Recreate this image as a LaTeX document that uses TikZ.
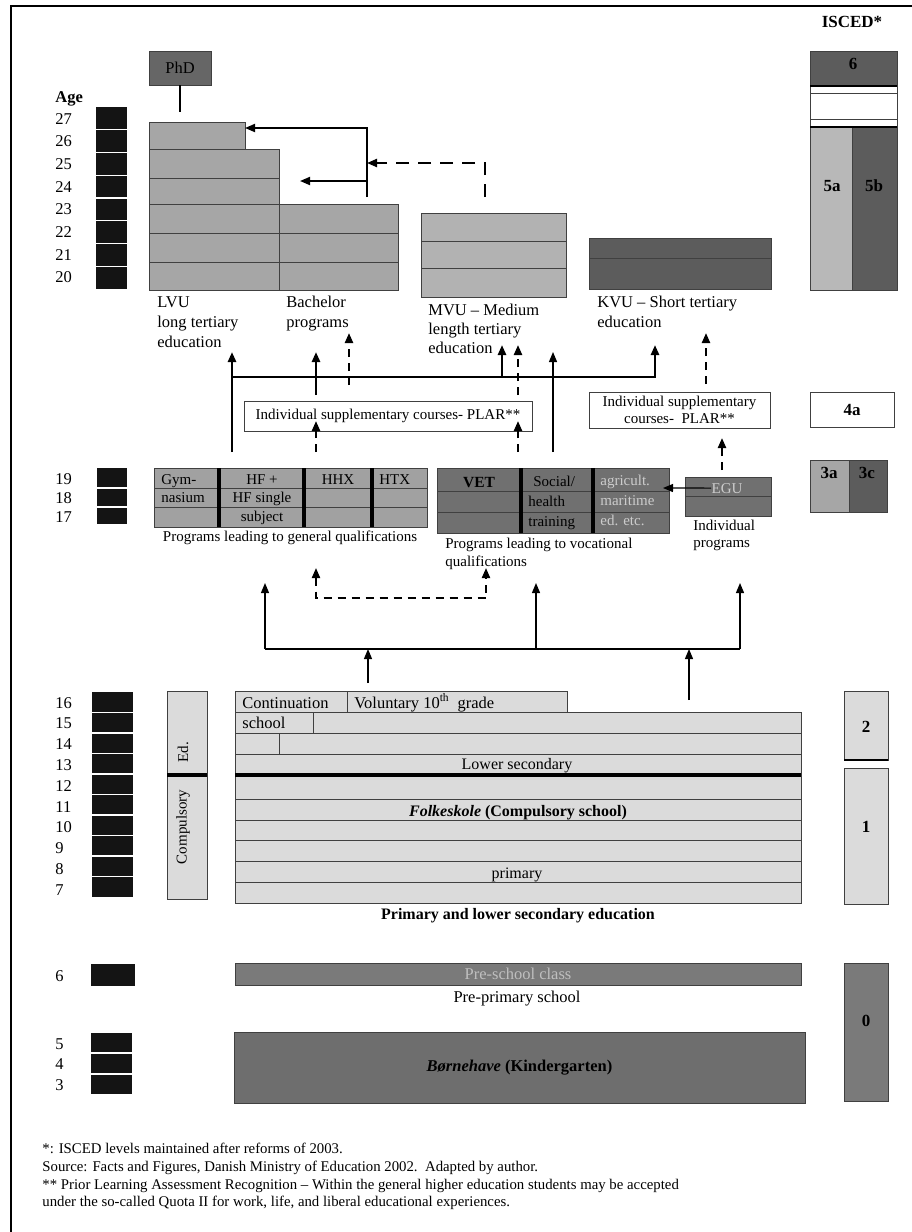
\documentclass[tikz,border=0pt]{standalone}
\usepackage{fontspec}
\setmainfont{Liberation Serif}
\usepackage{tikz}
\usetikzlibrary{arrows.meta,positioning,calc}
\tikzset{every picture/.style={line width=0.75pt}}

\definecolor{barfill}{gray}{0.08}
\definecolor{midfill}{gray}{0.65}
\definecolor{mvufill}{gray}{0.70}
\definecolor{kvufill}{gray}{0.36}
\definecolor{phdfill}{gray}{0.40}
\definecolor{iscdark}{gray}{0.36}
\definecolor{isclight}{gray}{0.72}
\definecolor{genfill}{gray}{0.63}
\definecolor{vocfill}{gray}{0.44}
\definecolor{lightfill}{gray}{0.86}
\definecolor{prefill}{gray}{0.48}
\definecolor{kinfill}{gray}{0.43}

\begin{document}
\begin{tikzpicture}[x=1pt, y=-1pt, >={Triangle[length=10pt,width=8pt]},
    box/.style={draw=black!75, line width=0.8pt, anchor=north west, inner sep=0pt, outer sep=0pt},
    txt/.style={inner sep=0pt, font=\fontsize{15}{18.5}\selectfont},
    lbl/.style={inner sep=0pt, font=\fontsize{16.5}{20}\selectfont, align=left, anchor=north west},
    num/.style={inner sep=0pt, font=\fontsize{16.5}{20}\selectfont, anchor=base west},
    lvl/.style={inner sep=0pt, font=\fontsize{17}{20}\selectfont\bfseries, anchor=base},
    agebar/.style={fill=barfill, anchor=north west, inner sep=0pt, outer sep=0pt},
    agesep/.style={white, line width=1.2pt},
    rowline/.style={draw=black!75, line width=0.8pt},
    wall/.style={line width=4pt},
    arw/.style={line width=1.8pt},
    thk/.style={line width=2.6pt},
    dsh/.style={line width=2.2pt, dash pattern=on 8pt off 6pt},
    fine/.style={line width=1.2pt}]
    \useasboundingbox (0,0) rectangle (912,1232);

    % frame
    \draw[line width=2.2pt] (11,1232) -- (11,6) -- (912,6);
    \node[lvl] (iscedhd) at (852,27) {ISCED*};

    % age scale 27-20
    \node[inner sep=0pt, font=\fontsize{16.5}{20}\selectfont\bfseries, anchor=base west] (agehd) at (55,102) {Age};
    \node[agebar, minimum width=31, minimum height=182] (barhi) at (96,107) {};
    \foreach \i in {1,...,7} \draw[agesep] (96,{107+22.75*\i}) -- ++(31,0);
    \foreach \a [count=\i from 0] in {27,26,...,20} \node[num] (age\a) at (55,{124+22.7*\i}) {\a};

    % PhD
    \node[box, fill=phdfill, minimum width=62, minimum height=34, font=\fontsize{16.5}{20}\selectfont] (phd) at (149,51) {PhD};
    \coordinate (phdfoot) at (180,112);
    \draw[arw] (phd.south) -- (phdfoot);

    % LVU and bachelor
    \node[box, fill=midfill, minimum width=96, minimum height=27] (lvutop) at (149,122) {};
    \node[box, fill=midfill, minimum width=130, minimum height=141] (lvu) at (149,149) {};
    \node[box, fill=midfill, minimum width=119, minimum height=86] (bach) at (279,204) {};
    \foreach \y in {178,204,233,262} \draw[rowline] (149,\y) -- (279,\y);
    \foreach \y in {233,262} \draw[rowline] (279,\y) -- (398,\y);

    % MVU and KVU
    \node[box, fill=mvufill, minimum width=145, minimum height=84] (mvu) at (421,213) {};
    \foreach \y in {241,268} \draw[rowline] (421,\y) -- (566,\y);
    \node[box, fill=kvufill, minimum width=182, minimum height=51] (kvu) at (589,238) {};
    \draw[rowline] (589,258) -- (771,258);

    \node[lbl] (lvulbl) at (157,296) {LVU\\long tertiary\\education};
    \node[lbl] (bachlbl) at (286,296) {Bachelor\\programs};
    \node[lbl, font=\fontsize{16.5}{19}\selectfont] (mvulbl) at (428,304) {MVU -- Medium\\length tertiary\\education};
    \node[lbl] (kvulbl) at (597,296) {KVU -- Short tertiary\\education};

    % transfer arrows
    \coordinate (bfoot) at (367,197);
    \coordinate (bturn) at (367,128);
    \coordinate (bmid) at (367,181);
    \coordinate (mfoot) at (485,197);
    \coordinate (mturn) at (485,163);
    \draw[arw,->] (bfoot) -- (bturn) -- (bturn -| lvutop.east);
    \draw[arw,->] (bmid) -- ++(-67,0);
    \draw[dsh, dash pattern=on 13pt off 9pt, ->] (mfoot) -- (mturn) -- (mturn -| bturn);

    % ISCED 5-6
    \node[box, fill=iscdark, minimum width=87, minimum height=35] (isc6) at (810,51) {};
    \node[box, fill=white, minimum width=87, minimum height=41] (iscgap) at (810,86) {};
    \foreach \y in {93,119} \draw[rowline] (810,\y) -- (897,\y);
    \node[box, fill=isclight, minimum width=42, minimum height=163] (isc5a) at (810,127) {};
    \node[box, fill=iscdark, minimum width=45, minimum height=163] (isc5b) at (852,127) {};
    \draw[line width=2pt] (isc6.south west) -- (isc6.south east);
    \draw[line width=2pt] (isc5a.north west) -- (isc5b.north east);
    \node[lvl] (lvl6) at (853,69) {6};
    \node[lvl] (lvl5a) at (832,191) {5a};
    \node[lvl] (lvl5b) at (874,191) {5b};

    % supplementary courses
    \node[box, fill=white, minimum width=288, minimum height=30, font=\fontsize{15}{18}\selectfont] (supp1) at (244,401) {Individual supplementary courses- PLAR**};
    \node[box, fill=white, minimum width=181, minimum height=36, align=center, font=\fontsize{15}{17}\selectfont] (supp2) at (589,392) {Individual supplementary\\courses-~ PLAR**};
    \node[box, minimum width=84, minimum height=35, font=\fontsize{17}{20}\selectfont\bfseries] (isc4a) at (810,392) {4a};

    % access to tertiary
    \coordinate (gymout) at (232,452);
    \coordinate (lvuin) at (232,352);
    \coordinate (hubw) at (232,377);
    \coordinate (hube) at (655,377);
    \coordinate (kvuin) at (655,345);
    \coordinate (bachin) at (316,352);
    \coordinate (suppout) at (316,395);
    \coordinate (bachdin) at (349,333);
    \coordinate (bachdout) at (349,385);
    \coordinate (mvuin) at (502,345);
    \coordinate (mvuhub) at (502,377);
    \coordinate (mvudin) at (518,345);
    \coordinate (mvudout) at (518,395);
    \coordinate (vetout) at (553,452);
    \coordinate (vetin) at (553,352);
    \coordinate (kvudin) at (706,333);
    \coordinate (kvudout) at (706,384);
    \draw[thk,->] (gymout) -- (lvuin);
    \draw[thk,->] (hubw) -- (hube) -- (kvuin);
    \draw[thk,->] (suppout) -- (bachin);
    \draw[thk,->] (mvuhub) -- (mvuin);
    \draw[dsh,->] (bachdout) -- (bachdin);
    \draw[dsh,->] (mvudout) -- (mvudin);
    \draw[dsh,->] (kvudout) -- (kvudin);
    \draw[fine,->] (vetout) -- (vetin);
    \draw[dsh,->] (316,452) -- (316,421);
    \draw[dsh,->] (518,452) -- (518,421);

    % age scale 19-17
    \node[agebar, minimum width=30, minimum height=56] (barsec) at (97,468) {};
    \foreach \y in {488,507} \draw[agesep] (97,\y) -- ++(30,0);
    \foreach \a [count=\i from 0] in {19,18,17} \node[num] (age\a) at (55,{484+19*\i}) {\a};

    % general programs
    \node[box, fill=genfill, minimum width=273, minimum height=59] (gen) at (154,468) {};
    \foreach \y in {488,507} \draw[rowline] (154,\y) -- (427,\y);
    \foreach \x in {219,304,372} \draw[wall] (\x,468) -- (\x,527);
    \node[txt, anchor=north west, align=left] (gymtxt) at (161,474) {Gym-\\nasium};
    \node[txt, anchor=north, align=center] (hftxt) at (262,474) {HF +\\HF single\\subject};
    \node[txt, anchor=north] (hhxtxt) at (338,474) {HHX};
    \node[txt, anchor=north west] (htxtxt) at (379,474) {HTX};
    \node[txt, anchor=base] (genlbl) at (290,541) {Programs leading to general qualifications};

    % vocational programs
    \node[box, fill=vocfill, minimum width=232, minimum height=65] (voc) at (437,468) {};
    \foreach \y in {491,512} \draw[rowline] (437,\y) -- (669,\y);
    \foreach \x in {521,593} \draw[wall] (\x,468) -- (\x,533);
    \node[txt, anchor=base, font=\fontsize{15.5}{18}\selectfont\bfseries] (vettxt) at (479,487) {VET};
    \node[txt, anchor=north west, align=left, font=\fontsize{15}{20}\selectfont] (soctxt) at (528,476) {\hspace*{5pt}Social/\\health\\training};
    \node[txt, anchor=north west, align=left, text=black!20, font=\fontsize{15}{20}\selectfont] (agrtxt) at (600,475) {agricult.\\maritime\\ed. etc.};
    \node[txt, anchor=north west, align=left, font=\fontsize{15}{17.5}\selectfont] (voclbl) at (445,538) {Programs leading to vocational\\qualifications};

    % individual programs
    \node[box, fill=vocfill, minimum width=86, minimum height=39] (egu) at (685,477) {};
    \draw[rowline] (685,496) -- (771,496);
    \node[txt, anchor=base, text=black!20] (egutxt) at (727,493) {EGU};
    \coordinate (egutip) at (663,488);
    \draw[fine,->] (egutxt.west) -- (egutip);
    \node[txt, anchor=north west, align=left, font=\fontsize{15}{17}\selectfont] (indlbl) at (693,520) {Individual\\programs};
    \coordinate (eguout) at (722,470);
    \coordinate (supp2in) at (722,438);
    \draw[dsh,->] (eguout) -- (supp2in);

    % ISCED 3
    \node[box, fill=midfill, minimum width=39, minimum height=52] (isc3a) at (810,460) {};
    \node[box, fill=iscdark, minimum width=38, minimum height=52] (isc3c) at (849,460) {};
    \node[lvl] (lvl3a) at (829,478) {3a};
    \node[lvl] (lvl3c) at (867,478) {3c};

    % from compulsory school
    \coordinate (hub2w) at (265,649);
    \coordinate (hub2m) at (536,649);
    \coordinate (hub2e) at (740,649);
    \coordinate (folkout1) at (368,683);
    \coordinate (folkout2) at (689,700);
    \draw[fine] (hub2w) -- (hub2e);
    \draw[fine,->] (hub2w) -- (265,583);
    \draw[fine,->] (hub2m) -- (536,583);
    \draw[fine,->] (hub2e) -- (740,583);
    \draw[fine,->] (folkout1) -- (folkout1 |- hub2w);
    \draw[fine,->] (folkout2) -- (folkout2 |- hub2w);
    \draw[dsh, line width=2pt, <->] (316,568) -- (316,598) -- (486,598) -- (486,568);

    % age scale 16-7
    \node[agebar, minimum width=41, minimum height=205] (barprim) at (92,692) {};
    \foreach \i in {1,...,9} \draw[agesep] (92,{692+20.5*\i}) -- ++(41,0);
    \foreach \a [count=\i from 0] in {16,15,...,7} \node[num] (age\a) at (55,{708+20.8*\i}) {\a};

    % compulsory column
    \node[box, fill=lightfill, minimum width=40, minimum height=208] (comp) at (167,691) {};
    \draw[wall, line width=4.5pt] (167,775) -- (207,775);
    \node[txt, rotate=90] (edtxt) at (183,752) {Ed.};
    \node[txt, rotate=90] (comptxt) at (183,827) {Compulsory};

    % Folkeskole
    \node[box, fill=lightfill, minimum width=332, minimum height=21] (controw) at (235,691) {};
    \draw[rowline] (347,691) -- (347,712);
    \node[box, fill=lightfill, minimum width=566, minimum height=191] (folk) at (235,712) {};
    \foreach \y in {733,754,799,820,840,861,882} \draw[rowline] (235,\y) -- (801,\y);
    \draw[line width=4.5pt] (235,775) -- (801,775);
    \draw[rowline] (313,712) -- (313,733);
    \draw[rowline] (279,733) -- (279,754);
    \node[num, font=\fontsize{16.5}{20}\selectfont] (conttxt) at (242,708) {Continuation};
    \node[num, font=\fontsize{16.5}{20}\selectfont] (voltxt) at (354,708) {Voluntary 10\textsuperscript{th}\ \ grade};
    \node[num, font=\fontsize{16.5}{20}\selectfont] (schtxt) at (242,728) {school};
    \node[txt, anchor=base, font=\fontsize{16}{20}\selectfont] (lowtxt) at (517,769) {Lower secondary};
    \node[txt, anchor=base, font=\fontsize{16}{20}\selectfont\bfseries] (folktxt) at (518,816) {\textit{Folkeskole} (Compulsory school)};
    \node[txt, anchor=base, font=\fontsize{16}{20}\selectfont] (primtxt) at (517,878) {primary};
    \node[txt, anchor=base, font=\fontsize{16}{20}\selectfont\bfseries] (folklbl) at (518,919) {Primary and lower secondary education};

    % ISCED 1-2
    \node[box, fill=lightfill, minimum width=44, minimum height=69] (isc2) at (844,691) {};
    \node[box, fill=lightfill, minimum width=44, minimum height=136] (isc1) at (844,768) {};
    \draw[line width=2.5pt] (isc2.south west) -- (isc2.south east);
    \node[lvl] (lvl2) at (866,732) {2};
    \node[lvl] (lvl1) at (866,832) {1};

    % pre-primary
    \node[agebar, minimum width=44, minimum height=22] (barpre) at (91,964) {};
    \node[num] (age6) at (55,981) {6};
    \node[box, fill=prefill, minimum width=566, minimum height=22, font=\fontsize{16.5}{20}\selectfont, text=black!25] (precls) at (235,963) {Pre-school class};
    \node[txt, anchor=base, font=\fontsize{16.5}{20}\selectfont] (prelbl) at (517,1002) {Pre-primary school};
    \node[box, fill=kinfill, minimum width=571, minimum height=71, font=\fontsize{16.5}{20}\selectfont\bfseries] (kinder) at (234,1032) {\textit{Børnehave} (Kindergarten)};
    \node[agebar, minimum width=41, minimum height=61] (barkin) at (91,1033) {};
    \foreach \y in {1053,1074} \draw[agesep] (91,\y) -- ++(41,0);
    \foreach \a/\y in {5/1049,4/1069,3/1090} \node[num] (age\a) at (55,\y) {\a};
    \node[box, fill=prefill, minimum width=44, minimum height=138] (isc0) at (844,963) {};
    \node[lvl] (lvl0) at (866,1026) {0};

    % notes
    \node[inner sep=0pt, anchor=north west, align=left, font=\fontsize{14.8}{17.7}\selectfont] (notes) at (42,1143) {*: ISCED levels maintained after reforms of 2003.\\
        Source: Facts and Figures, Danish Ministry of Education 2002.\ \ Adapted by author.\\
        ** Prior Learning Assessment Recognition -- Within the general higher education students may be accepted\\
        under the so-called Quota II for work, life, and liberal educational experiences.};
\end{tikzpicture}
\end{document}
